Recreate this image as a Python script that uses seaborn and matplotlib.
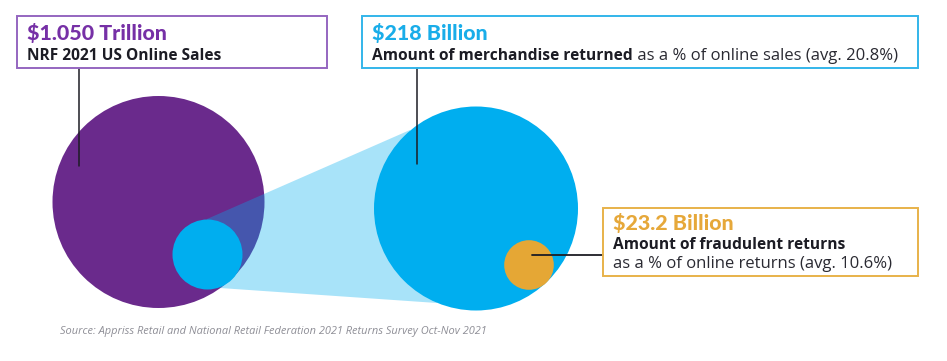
import numpy as np
import pandas as pd
import matplotlib
matplotlib.use('Agg')
import matplotlib.pyplot as plt
from matplotlib.patches import Circle, Rectangle, Polygon
import seaborn as sns

sns.set_style('white')
plt.rcParams['font.family'] = ['Open Sans', 'DejaVu Sans']

# values shown on the infographic (billions of dollars)
labels = ['$1.050 Trillion', '$218 Billion', '$23.2 Billion']
values = [1050, 218, 23.2]
subtitles = ['NRF 2021 US Online Sales',
             'Amount of merchandise returned',
             'Amount of fraudulent returns']
notes = ['', ' as a % of online sales (avg. 20.8%)',
         'as a % of online returns (avg. 10.6%)']
source = 'Source: Appriss Retail and National Retail Federation 2021 Returns Survey Oct-Nov 2021'

purple = '#6a2a8c'
blue = '#00aeef'
orange = '#e5a735'
dark = '#1c1c24'

W, H = 947, 361
fig = plt.figure(figsize=(W / 100, H / 100), dpi=100)
ax = fig.add_axes([0, 0, 1, 1])
ax.set_xlim(0, W)
ax.set_ylim(H, 0)
ax.set_axis_off()

# circles
ax.add_patch(Circle((158.5, 202), 106, color=purple, lw=0, zorder=1))
ax.add_patch(Polygon([(207, 219), (410, 130), (437, 303), (220, 288)],
                     closed=True, facecolor=blue, alpha=0.34, lw=0, zorder=2))
ax.add_patch(Circle((207.5, 254.5), 35, color=blue, lw=0, zorder=3))
ax.add_patch(Circle((476, 208.5), 102, color=blue, lw=0, zorder=3))
ax.add_patch(Circle((529, 265), 24.8, color=orange, lw=0, zorder=4))

# leader lines
ax.plot([79, 79], [68, 166], color=dark, lw=1.1, zorder=5)
ax.plot([416.5, 416.5], [68, 164], color=dark, lw=1.1, zorder=5)
ax.plot([532, 603], [254.5, 254.5], color=dark, lw=1.3, zorder=5)

# boxes
ax.add_patch(Rectangle((17, 16), 310, 52, fill=False, ec='#9566c0', lw=1.4, zorder=6))
ax.add_patch(Rectangle((362, 16), 556, 52, fill=False, ec='#33b5ea', lw=1.4, zorder=6))
ax.add_patch(Rectangle((603, 208), 315, 68, fill=False, ec='#e8b24a', lw=1.4, zorder=6))

title_kw = dict(fontsize=15.4, fontweight='black', va='baseline', zorder=7,
                family=['Lato', 'DejaVu Sans'])
sub_kw = dict(fontsize=11.2, fontweight='bold', color=dark, va='baseline', zorder=7)
note_kw = dict(fontsize=12.0, color='#2a2a32', va='baseline', zorder=7)

ax.text(27, 40, labels[0], color='#7630a6', **title_kw)
ax.text(27, 60, subtitles[0], **sub_kw)

ax.text(372, 40, labels[1], color='#19ade9', **title_kw)
t1 = ax.text(372, 60, subtitles[1], **sub_kw)

ax.text(613, 230, labels[2], color='#e6a83a', **title_kw)
ax.text(613, 249, subtitles[2], **sub_kw)
ax.text(613, 268, notes[2], **note_kw)

fig.canvas.draw()
bb = t1.get_window_extent().transformed(ax.transData.inverted())
ax.text(bb.x1, 60, notes[1], **note_kw)

ax.text(60, 334, source, fontsize=7.95, style='italic', color='#8e8e96', va='baseline')

fig.savefig('out.png', dpi=100)
